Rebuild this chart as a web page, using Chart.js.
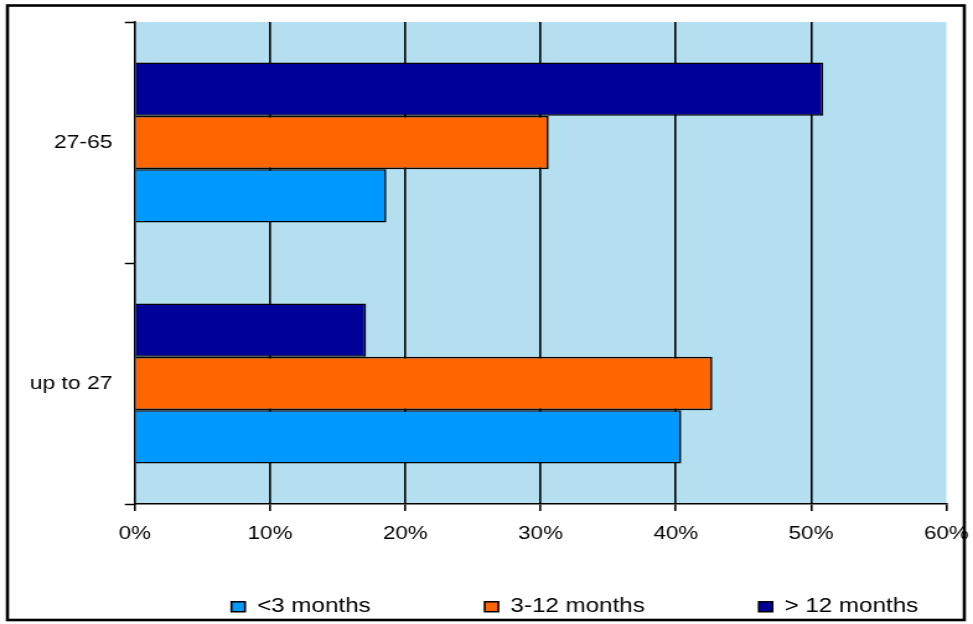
<!DOCTYPE html>
<html>
<head>
<meta charset="utf-8">
<title>Unemployment duration by age group</title>
<script src="https://cdn.jsdelivr.net/npm/chart.js@4.4.1/dist/chart.umd.min.js"></script>
<style>
    html, body { margin: 0; padding: 0; background: #fff; }
    #durationChart { display: block; }
</style>
</head>
<body>
<!-- drawn at 785px wide and stretched to 973px, like the original exported chart -->
<canvas id="durationChart" width="785" height="624" style="width: 973px; height: 624px;"></canvas>
<script>
// Data
const ageGroups = ['27-65', 'up to 27'];
const seriesNames = ['> 12 months', '3-12 months', '<3 months'];
const over12Months = [50.9, 17.1];
const from3To12Months = [30.6, 42.7];
const under3Months = [18.6, 40.4];
const percentTicks = [0, 10, 20, 30, 40, 50, 60];

const FONT = "'Liberation Sans', Arial, sans-serif";

// Light blue plot background
const plotBackground = {
    id: 'plotBackground',
    beforeDraw(chart) {
        const { ctx, chartArea: a } = chart;
        ctx.save();
        ctx.fillStyle = '#B3DFF0';
        ctx.fillRect(a.left, a.top, a.right - a.left, a.bottom - a.top);
        ctx.restore();
    }
};

// Black frame round the whole chart
const outerFrame = {
    id: 'outerFrame',
    afterDraw(chart) {
        const ctx = chart.ctx;
        ctx.save();
        ctx.strokeStyle = '#000';
        ctx.lineWidth = 2.6;
        ctx.strokeRect(6, 5.5, 772, 614.5);
        ctx.restore();
    }
};

// Legend sits right of centre, just above the bottom frame
const legendShift = {
    id: 'legendShift',
    afterLayout(chart) {
        const lg = chart.legend;
        lg.left += 82;
        lg.right += 82;
        lg.top -= 44;
    }
};

Chart.defaults.color = '#000';
Chart.defaults.font.family = FONT;

const ctx = document.getElementById('durationChart').getContext('2d');
window.durationChart = new Chart(ctx, {
    type: 'bar',
    data: {
        labels: ageGroups,
        datasets: [
            { label: seriesNames[0], data: over12Months, backgroundColor: '#000099' },
            { label: seriesNames[1], data: from3To12Months, backgroundColor: '#FF6600' },
            { label: seriesNames[2], data: under3Months, backgroundColor: '#0099FF' }
        ].map(ds => Object.assign(ds, { borderColor: '#000', borderWidth: 1.6 }))
    },
    options: {
        indexAxis: 'y',
        responsive: false,
        animation: false,
        devicePixelRatio: 1,
        categoryPercentage: 0.664,
        barPercentage: 1.0,
        layout: { padding: { top: 22, right: 21.5, left: 0, bottom: 0 } },
        scales: {
            x: {
                min: 0,
                max: 60,
                afterBuildTicks(scale) {
                    scale.ticks = percentTicks.map(v => ({ value: v }));
                },
                afterFit(scale) {
                    scale.height = 45;
                    // end labels may hang past the plot edges
                    scale.paddingLeft = 0;
                    scale.paddingRight = 0;
                },
                ticks: {
                    font: { size: 18 },
                    padding: 12,
                    maxRotation: 0,
                    callback: v => v + '%'
                },
                grid: {
                    color: c => (c.tick && (c.tick.value === 0 || c.tick.value === 60)) ? 'rgba(0,0,0,0)' : '#000',
                    lineWidth: 1.6,
                    tickColor: '#000',
                    tickLength: 7
                },
                border: { display: true, color: '#000', width: 1.5 }
            },
            y: {
                afterFit(scale) { scale.width = 108.75; },
                ticks: { font: { size: 18.5 }, padding: 10 },
                grid: {
                    drawOnChartArea: false,
                    drawTicks: true,
                    tickColor: '#000',
                    tickLength: 8,
                    tickWidth: 1.5
                },
                border: { display: true, color: '#000', width: 1.6 }
            }
        },
        plugins: {
            legend: {
                position: 'bottom',
                reverse: true,
                maxHeight: 75,
                labels: {
                    boxWidth: 11,
                    boxHeight: 10,
                    padding: 92,
                    font: { size: 19.5 }
                }
            },
            tooltip: { enabled: false }
        }
    },
    plugins: [plotBackground, outerFrame, legendShift]
});
</script>
</body>
</html>
